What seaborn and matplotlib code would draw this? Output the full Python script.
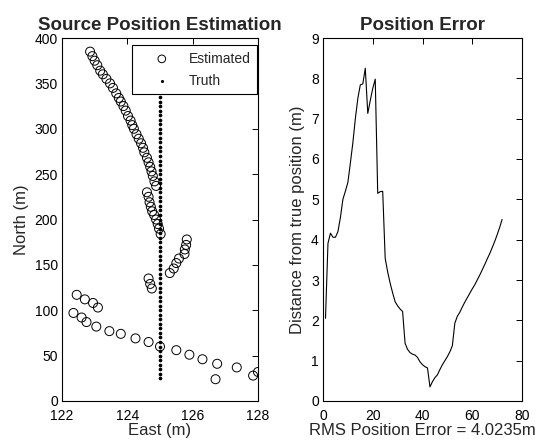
import numpy as np
import pandas as pd
import matplotlib
matplotlib.use("Agg")
import matplotlib.pyplot as plt
import seaborn as sns

# estimated source positions (east, north)
est_east = [122.86, 122.93, 123.0, 123.08, 123.17, 123.25, 123.36, 123.47, 123.56, 123.66,
            123.74, 123.8, 123.88, 123.95, 124.02, 124.1, 124.15, 124.2, 124.28, 124.35,
            124.42, 124.48, 124.52, 124.6, 124.65, 124.7, 124.74, 124.78, 124.83, 124.88,
            124.6, 124.65, 124.68, 124.72, 124.76, 124.82, 124.88, 124.93, 124.97, 125.02,
            125.3, 125.42, 125.5, 125.58, 125.75, 125.76, 125.8, 125.82,
            124.65, 124.7, 124.75,
            122.45, 122.7, 122.95, 123.1,
            122.35, 122.6, 122.75, 123.05, 123.45, 123.8, 124.25, 124.65, 125.0, 125.5,
            125.9, 126.3, 126.75, 127.35, 127.85, 128.0, 126.7]
est_north = [385, 380, 375, 370, 364, 360, 355, 350, 345, 339,
             334, 330, 325, 320, 314, 309, 304, 300, 294, 289,
             284, 279, 274, 268, 263, 258, 253, 248, 242, 237,
             230, 225, 219, 214, 209, 205, 200, 195, 190, 184,
             141, 146, 152, 157, 162, 167, 172, 178,
             135, 129, 124,
             117, 112, 108, 103,
             97, 92, 87, 82, 77, 74, 69, 65, 60, 56,
             51, 46, 41, 37, 28, 32, 24]

# true source track
truth_east = [125.0] * 72
truth_north = [25, 30, 35, 40, 45, 50, 55, 60, 65, 70, 75, 80, 85, 90, 95, 100, 105, 110,
               115, 120, 125, 130, 135, 140, 145, 150, 155, 160, 165, 170, 175, 180, 185,
               190, 195, 200, 205, 210, 215, 220, 225, 230, 235, 240, 245, 250, 255, 260,
               265, 270, 275, 280, 285, 290, 295, 300, 305, 310, 315, 320, 325, 330, 335,
               340, 345, 350, 355, 360, 365, 370, 375, 380]

# position error per step
step = list(range(1, 73))
err = [2.05, 3.91, 4.16, 4.06, 4.06, 4.2, 4.55, 5.0, 5.2, 5.42,
       5.9, 6.4, 7.0, 7.5, 7.84, 7.86, 8.25, 7.13, 7.45, 7.75,
       7.98, 5.15, 5.19, 5.2, 3.54, 3.2, 2.92, 2.68, 2.46, 2.36,
       2.28, 2.22, 1.43, 1.28, 1.2, 1.16, 1.14, 1.08, 0.97, 0.9,
       0.85, 0.82, 0.35, 0.48, 0.58, 0.65, 0.78, 0.9, 1.0, 1.1,
       1.22, 1.37, 1.93, 2.1, 2.2, 2.33, 2.45, 2.56, 2.67, 2.78,
       2.88, 3.0, 3.12, 3.25, 3.38, 3.52, 3.65, 3.8, 3.95, 4.12,
       4.3, 4.5]
rms_err = 4.0235

sns.set_style("white")
plt.rcParams['font.family'] = ['Liberation Sans', 'DejaVu Sans']
plt.rcParams['xtick.direction'] = 'in'
plt.rcParams['ytick.direction'] = 'in'

est_df = pd.DataFrame({'east': est_east, 'north': est_north})
truth_df = pd.DataFrame({'east': truth_east, 'north': truth_north})
err_df = pd.DataFrame({'step': step, 'err': err})

fig = plt.figure(figsize=(5.43, 4.42), dpi=100)
W, H = 543, 442
ax1 = fig.add_axes([62 / W, (H - 401) / H, 196 / W, 363 / H])
ax2 = fig.add_axes([323 / W, (H - 401) / H, 199 / W, 363 / H])

sns.scatterplot(data=est_df, x='east', y='north', ax=ax1, marker='o', s=42,
                facecolor='none', edgecolor='black', linewidth=0.7, label='Estimated')
sns.scatterplot(data=truth_df, x='east', y='north', ax=ax1, marker='o', s=7,
                color='black', edgecolor='black', linewidth=0, label='Truth')
ax1.set_xlim(122, 128)
ax1.set_ylim(0, 400)
ax1.set_xticks([122, 124, 126, 128])
ax1.set_yticks([0, 50, 100, 150, 200, 250, 300, 350, 400])
ax1.set_xlabel('East (m)', fontsize=12, labelpad=0)
ax1.set_ylabel('North (m)', fontsize=12, labelpad=4)
ax1.set_title('Source Position Estimation', fontsize=13.5, fontweight='bold', pad=6)
leg = ax1.legend(loc='upper right', bbox_to_anchor=(0.995, 0.98), borderaxespad=0,
                 fontsize=10, frameon=True, fancybox=False, edgecolor='black',
                 framealpha=1, markerscale=0.85, handlelength=3.4, handletextpad=0.25,
                 borderpad=0.45, labelspacing=0.6)
leg.get_frame().set_linewidth(0.8)

sns.lineplot(data=err_df, x='step', y='err', ax=ax2, color='black', linewidth=0.8)
ax2.set_xlim(0, 80)
ax2.set_ylim(0, 9)
ax2.set_xticks([0, 20, 40, 60, 80])
ax2.set_yticks(range(0, 10))
ax2.set_xlabel('RMS Position Error = %.4fm' % rms_err, fontsize=12, labelpad=0)
ax2.set_ylabel('Distance from true position (m)', fontsize=12, labelpad=4)
ax2.set_title('Position Error', fontsize=13.5, fontweight='bold', pad=6)

for ax in (ax1, ax2):
    ax.tick_params(axis='both', which='both', direction='in', top=True, right=True,
                   labelsize=10, length=4, width=0.7, colors='black')
    ax.tick_params(axis='x', pad=6)
    ax.tick_params(axis='y', pad=3)
    for sp in ax.spines.values():
        sp.set_visible(True)
        sp.set_color('black')
        sp.set_linewidth(0.8)

fig.savefig('out.png', dpi=100)
